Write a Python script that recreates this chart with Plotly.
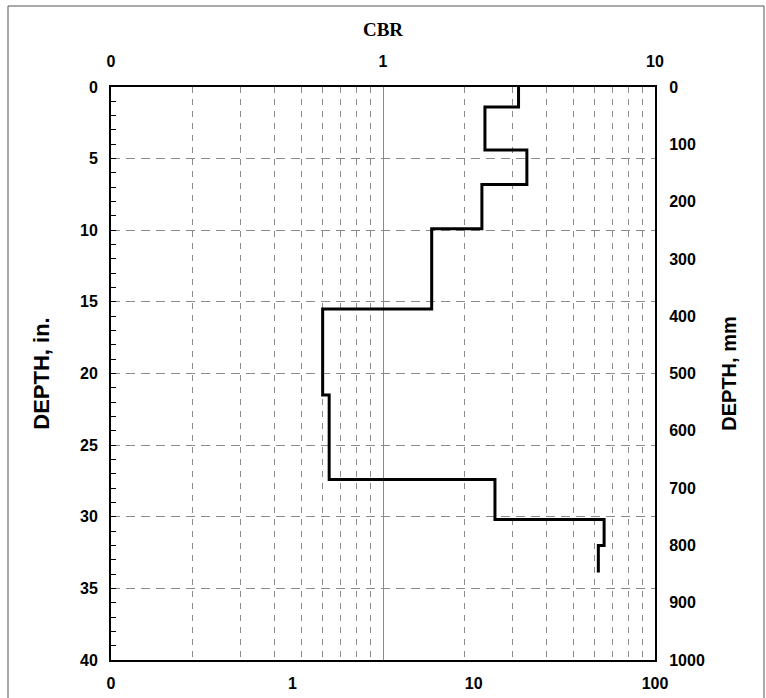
import plotly.graph_objects as go

# Layer profile (CBR, log scale) versus depth
layer_top_depth_in = [0, 1.4, 4.4, 6.8, 9.9, 15.5, 21.5, 27.4, 30.2, 32.0, 33.9]
cbr_values = [3.15, 2.37, 3.38, 2.31, 1.51, 0.60, 0.634, 2.58, 6.50, 6.19, 6.19]

top_tick_vals = [0.1, 1, 10]
top_tick_text = ["0", "1", "10"]
top_minor_vals = [0.2, 0.3, 0.4, 0.5, 0.6, 0.7, 0.8, 0.9, 2, 3, 4, 5, 6, 7, 8, 9]
bottom_tick_vals = [0.1, 1, 10, 100]
bottom_tick_text = ["0", "1", "10", "100"]

W, H = 766, 698
L, R, T, B = 111, 111, 87, 38
tick_font = dict(family="Liberation Sans, Arial", size=16, color="black", weight="bold")
grid_col = "#8a8a8a"

fig = go.Figure()
fig.add_trace(go.Scatter(
    x=cbr_values, y=layer_top_depth_in, xaxis="x2", yaxis="y",
    mode="lines", line=dict(color="black", width=3, shape="vh"),
    showlegend=False, hoverinfo="skip"))
# placeholder trace so bottom x / right y axes are drawn
fig.add_trace(go.Scatter(x=[None], y=[None], xaxis="x", yaxis="y2",
                         mode="lines", showlegend=False, hoverinfo="skip"))

fig.update_layout(
    width=W, height=H,
    margin=dict(l=L, r=R, t=T, b=B, pad=0, autoexpand=False),
    paper_bgcolor="white", plot_bgcolor="white",
    xaxis=dict(type="log", range=[-1, 2], tickmode="array", automargin=False,
               tickvals=bottom_tick_vals, ticktext=bottom_tick_text,
               ticks="inside", ticklen=5, tickwidth=1, tickcolor="black",
               showgrid=False, zeroline=False, showline=True, linecolor="black",
               linewidth=2, tickfont=tick_font, ticklabelstandoff=8),
    xaxis2=dict(type="log", range=[-1, 1], overlaying="x", side="top", automargin=False,
                tickmode="array", tickvals=top_tick_vals, ticktext=top_tick_text,
                ticks="", showgrid=True, gridcolor=grid_col, gridwidth=1,
                minor=dict(tickmode="array", tickvals=top_minor_vals, showgrid=True,
                           gridcolor=grid_col, gridwidth=1, griddash="6px,6px", ticks=""),
                zeroline=False, showline=True, linecolor="black", linewidth=2,
                tickfont=tick_font, ticklabelstandoff=12,
                title=dict(text="CBR", font=dict(family="Liberation Serif, Times New Roman",
                                                 size=19, color="black", weight="bold"),
                           standoff=11)),
    yaxis=dict(range=[40, 0], tickmode="linear", tick0=0, dtick=5, automargin=False,
               ticks="inside", ticklen=5, tickwidth=1, tickcolor="black",
               minor=dict(dtick=1, ticks="inside", ticklen=5, tickwidth=1, tickcolor="black"),
               showgrid=True, gridcolor=grid_col, gridwidth=1, griddash="9px,6px",
               zeroline=False, showline=True, linecolor="black", linewidth=2,
               tickfont=tick_font, ticklabelstandoff=8,
               title=dict(text="DEPTH, in.", font=dict(family="Liberation Sans, Arial",
                                                        size=22, color="black", weight="bold"),
                          standoff=24)),
    yaxis2=dict(range=[1000, 0], overlaying="y", side="right", tickmode="linear",
                automargin=False,
                tick0=0, dtick=100, ticks="inside", ticklen=5, tickwidth=1, tickcolor="black",
                minor=dict(dtick=20, ticks="inside", ticklen=5, tickwidth=1, tickcolor="black"),
                showgrid=False, zeroline=False, showline=True, linecolor="black", linewidth=2,
                tickfont=tick_font, ticklabelstandoff=9,
                title=dict(text="DEPTH, mm", font=dict(family="Liberation Sans, Arial",
                                                       size=20, color="black", weight="bold"),
                           standoff=18)),
)

# outer frame of the figure (left, top, right edges)
pw, ph = W - L - R, H - T - B
fx0 = (8 - L) / pw
fx1 = (764 - L) / pw
fy_top = (H - B - 6) / ph
fy_bot = (H - B - 698) / ph
fig.add_shape(type="path", xref="paper", yref="paper",
              path=f"M {fx0} {fy_bot} L {fx0} {fy_top} L {fx1} {fy_top} L {fx1} {fy_bot}",
              line=dict(color="#555555", width=1))

fig.write_html("out.html")
